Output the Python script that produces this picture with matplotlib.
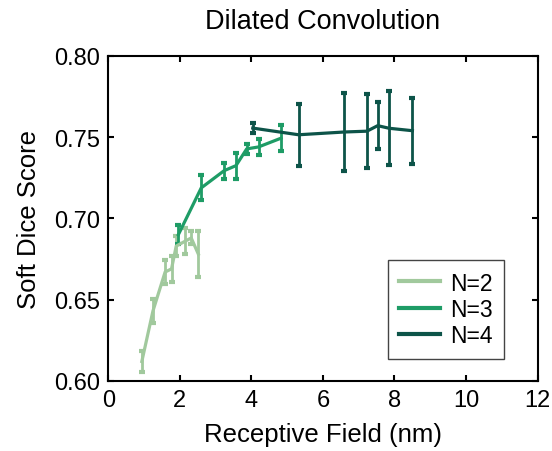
import numpy as np
import matplotlib.pyplot as plt
from matplotlib.lines import Line2D

plt.rcParams['font.family'] = ['Liberation Sans', 'DejaVu Sans']

# receptive field (nm), soft dice mean and error for each depth N
rf_n2 = [0.94, 1.25, 1.59, 1.77, 1.90, 2.15, 2.32, 2.52]
dice_n2 = [0.612, 0.643, 0.667, 0.669, 0.683, 0.686, 0.688, 0.678]
err_n2 = [0.0065, 0.0074, 0.0075, 0.008, 0.006, 0.008, 0.004, 0.014]

rf_n3 = [1.96, 2.60, 3.24, 3.57, 3.87, 4.20, 4.83]
dice_n3 = [0.690, 0.7188, 0.7294, 0.7325, 0.7428, 0.744, 0.7494]
err_n3 = [0.006, 0.0077, 0.005, 0.008, 0.003, 0.005, 0.008]

rf_n4 = [4.04, 5.32, 6.60, 7.23, 7.53, 7.85, 8.50]
dice_n4 = [0.7556, 0.7515, 0.7532, 0.7537, 0.7571, 0.7555, 0.7540]
err_n4 = [0.0033, 0.019, 0.0239, 0.0229, 0.0146, 0.0229, 0.0204]

labels = ['N=2', 'N=3', 'N=4']
colors = ['#a1c99d', '#1e9c66', '#0d5449']

fig = plt.figure(figsize=(5.52, 4.52), dpi=100)
ax = fig.add_axes([0.196, 0.155, 0.778, 0.719])

for x, y, e, c in [(rf_n2, dice_n2, err_n2, colors[0]),
                   (rf_n3, dice_n3, err_n3, colors[1]),
                   (rf_n4, dice_n4, err_n4, colors[2])]:
    ax.errorbar(x, y, yerr=e, color=c, lw=2.3, elinewidth=2.0,
                capsize=2.5, capthick=3)

ax.set_xlim(0, 12)
ax.set_ylim(0.60, 0.80)
ax.set_xticks(np.arange(0, 13, 2))
ax.set_yticks([0.60, 0.65, 0.70, 0.75, 0.80])
ax.set_yticklabels(['0.60', '0.65', '0.70', '0.75', '0.80'])
ax.tick_params(direction='in', top=True, right=True, length=4, width=1.5,
               labelsize=17, pad=6)
for s in ax.spines.values():
    s.set_linewidth(1.5)

ax.set_xlabel('Receptive Field (nm)', fontsize=18.5, labelpad=8)
ax.set_ylabel('Soft Dice Score', fontsize=18.5, labelpad=9)
ax.set_title('Dilated Convolution', fontsize=19.5, pad=20)

handles = [Line2D([], [], color=c, lw=3) for c in colors]
leg = ax.legend(handles, labels, loc='lower left', bbox_to_anchor=(0.651, 0.068),
                borderaxespad=0, fontsize=16.5, fancybox=False,
                edgecolor='#444444', framealpha=1, handlelength=1.8,
                handletextpad=0.4, borderpad=0.5, labelspacing=0.15)
leg.get_frame().set_linewidth(1.0)

fig.savefig('out.png', dpi=100)
